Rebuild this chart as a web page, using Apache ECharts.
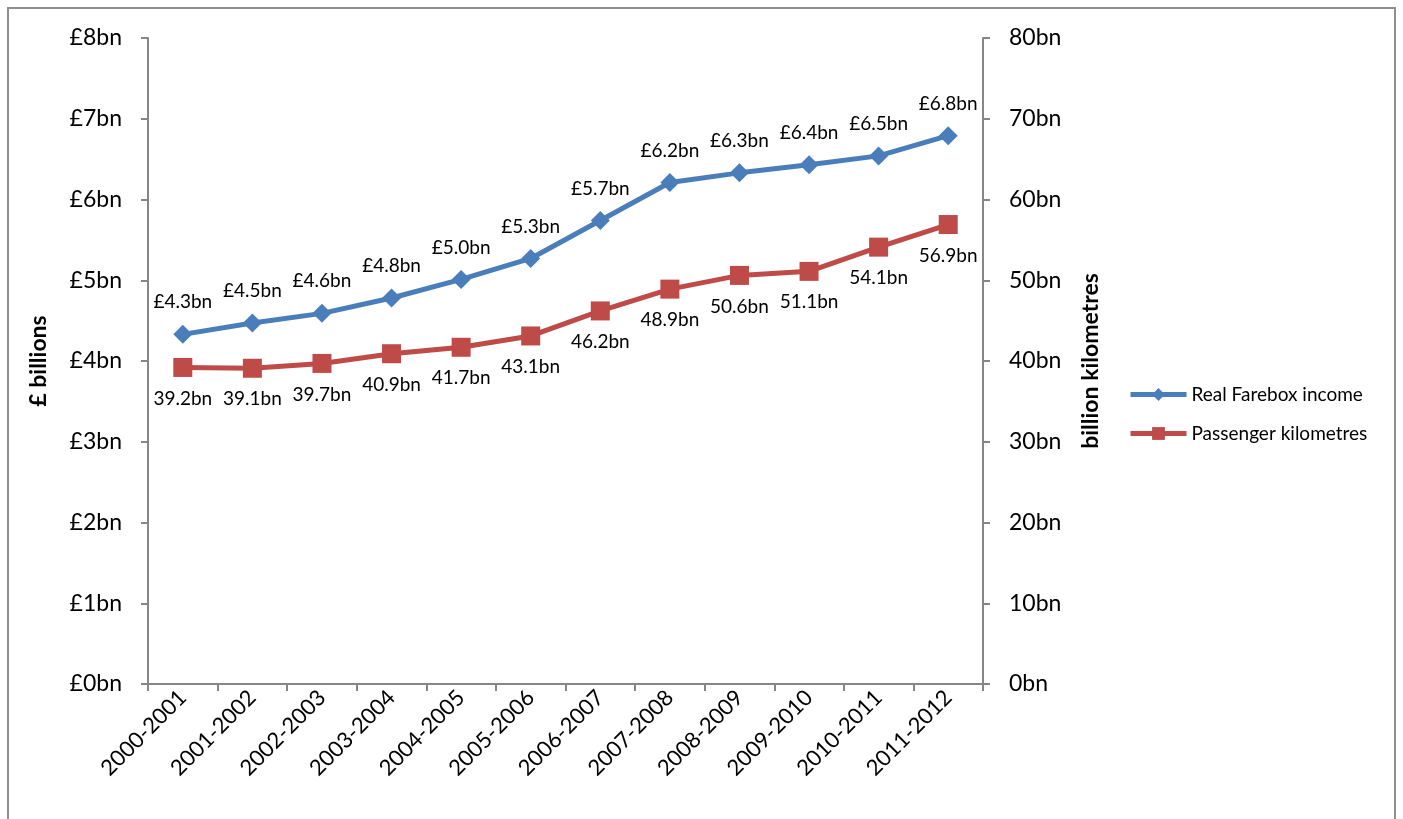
<!DOCTYPE html>
<html><head><meta charset="utf-8">
<script src="https://cdn.jsdelivr.net/npm/echarts@6/dist/echarts.min.js"></script>
<style>
html,body{margin:0;padding:0;background:#fff;}
#frame{position:absolute;left:7px;top:7px;width:1389px;height:900px;border:2px solid #8e8e8e;box-sizing:border-box;}
#c{position:absolute;left:0;top:0;width:1403px;height:819px;}
</style></head>
<body><div id="frame"></div><div id="c"></div>
<script>
const categories = ['2000-2001','2001-2002','2002-2003','2003-2004','2004-2005','2005-2006','2006-2007','2007-2008','2008-2009','2009-2010','2010-2011','2011-2012'];
const fareboxIncome = [4.33,4.47,4.59,4.78,5.01,5.27,5.74,6.21,6.33,6.43,6.54,6.79];
const passengerKm = [39.2,39.1,39.7,40.9,41.7,43.1,46.2,48.9,50.6,51.1,54.1,56.9];
const leftTicks = {min:0,max:8,interval:1};
const rightTicks = {min:0,max:80,interval:10};

const FONT = 'Lato, "Open Sans", sans-serif';
const axisColor = '#868686';
const chart = echarts.init(document.getElementById('c'));
chart.setOption({
  animation:false,
  textStyle:{fontFamily:FONT,color:'#000'},
  grid:{left:148,right:420,top:38,bottom:135,containLabel:false},
  legend:{
    orient:'vertical',left:1123,top:380,itemGap:20,itemWidth:56,itemHeight:16,
    textStyle:{fontFamily:FONT,fontSize:19,color:'#000'},
    lineStyle:{width:5},
    data:['Real Farebox income','Passenger kilometres']
  },
  xAxis:{
    type:'category',data:categories,boundaryGap:true,
    axisLine:{lineStyle:{color:axisColor,width:2}},
    axisTick:{show:true,alignWithLabel:false,length:7,lineStyle:{color:axisColor,width:2}},
    axisLabel:{rotate:45,fontSize:22,color:'#000',fontFamily:FONT,margin:10,interval:0}
  },
  yAxis:[
    {type:'value',min:leftTicks.min,max:leftTicks.max,interval:leftTicks.interval,position:'left',
     name:'£ billions',nameLocation:'middle',nameGap:98,nameRotate:90,
     nameTextStyle:{fontSize:23,fontWeight:'bold',fontFamily:FONT,color:'#000'},
     axisLine:{show:true,lineStyle:{color:axisColor,width:2}},
     axisTick:{show:true,length:7,lineStyle:{color:axisColor,width:2}},
     splitLine:{show:false},
     axisLabel:{formatter:'£{value}bn',fontSize:23,color:'#000',margin:26,fontFamily:FONT}},
    {type:'value',min:rightTicks.min,max:rightTicks.max,interval:rightTicks.interval,position:'right',
     name:'billion kilometres',nameLocation:'middle',nameGap:96,nameRotate:90,
     nameTextStyle:{fontSize:23,fontWeight:'bold',fontFamily:FONT,color:'#000'},
     axisLine:{show:true,lineStyle:{color:axisColor,width:2}},
     axisTick:{show:true,length:7,lineStyle:{color:axisColor,width:2}},
     splitLine:{show:false},
     axisLabel:{formatter:'{value}bn',fontSize:23,color:'#000',margin:26,fontFamily:FONT}}
  ],
  series:[
    {name:'Real Farebox income',type:'line',yAxisIndex:0,data:fareboxIncome,
     symbol:'diamond',symbolSize:19,
     lineStyle:{color:'#4A7EBB',width:5},itemStyle:{color:'#4A7EBB'},
     label:{show:true,position:'top',distance:13,fontSize:19,color:'#000',fontFamily:FONT,
       formatter:p=>'£'+p.value.toFixed(1)+'bn'}},
    {name:'Passenger kilometres',type:'line',yAxisIndex:1,data:passengerKm,
     symbol:'rect',symbolSize:19,
     lineStyle:{color:'#BE4B48',width:5},itemStyle:{color:'#BE4B48'},
     label:{show:true,position:'bottom',distance:12,fontSize:19,color:'#000',fontFamily:FONT,
       formatter:p=>p.value.toFixed(1)+'bn'}}
  ]
});
</script></body></html>
